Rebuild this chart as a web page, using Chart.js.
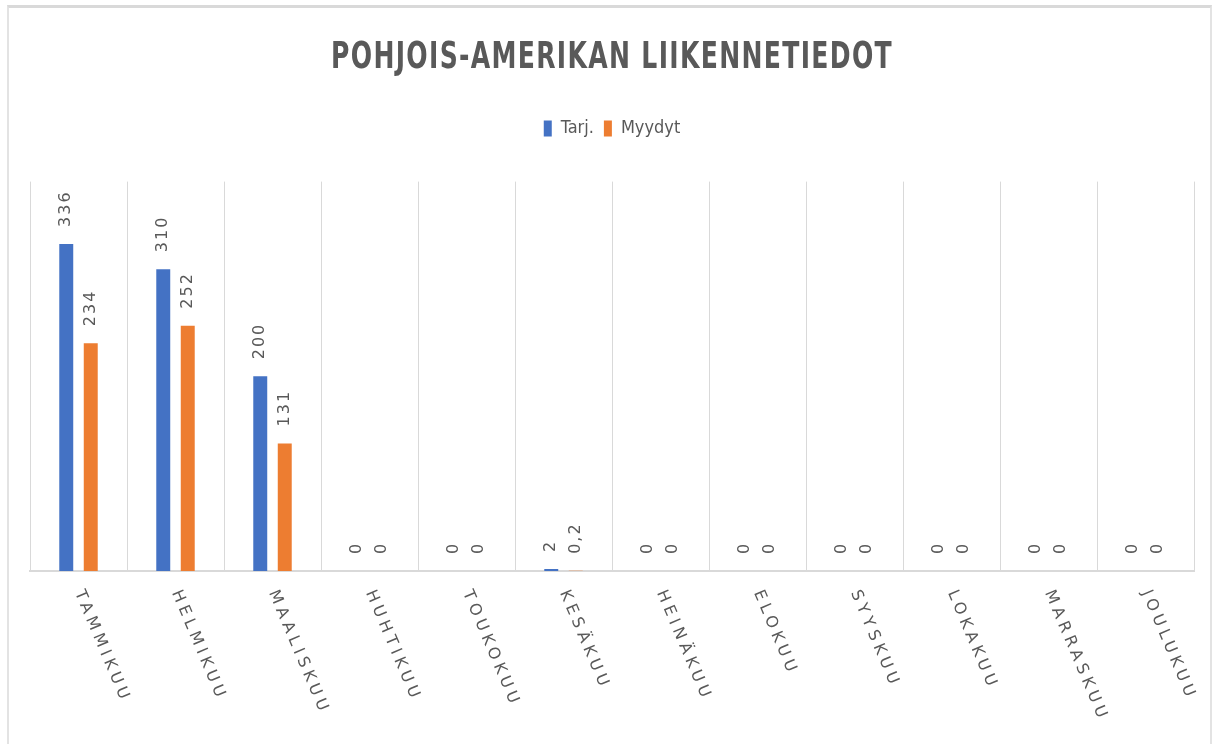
<!DOCTYPE html>
<html>
<head>
<meta charset="utf-8">
<script src="https://cdn.jsdelivr.net/npm/chart.js@4"></script>
<style>
  html, body { margin: 0; padding: 0; background: #fff; }
  #frame {
    position: absolute; left: 7px; top: 5px; width: 1205px; height: 745px;
    border-top: 3px solid #d9d9d9; border-left: 2px solid #e3e3e3; border-right: 2px solid #e3e3e3;
    box-sizing: border-box;
  }
  #wrap { position: absolute; left: 0; top: 0; width: 1216px; height: 744px; }
</style>
</head>
<body>
<div id="frame"></div>
<div id="wrap"><canvas id="myChart"></canvas></div>
<script>
const months = ['TAMMIKUU', 'HELMIKUU', 'MAALISKUU', 'HUHTIKUU', 'TOUKOKUU', 'KESÄKUU',
  'HEINÄKUU', 'ELOKUU', 'SYYSKUU', 'LOKAKUU', 'MARRASKUU', 'JOULUKUU'];
const tarj = [336, 310, 200, 0, 0, 2, 0, 0, 0, 0, 0, 0];
const myydyt = [234, 252, 131, 0, 0, 0.2, 0, 0, 0, 0, 0, 0];

const grey = '#595959';
const titleText = 'POHJOIS-AMERIKAN LIIKENNETIEDOT';

// bar value labels, rotated to read upwards
const valueLabels = {
  id: 'valueLabels',
  afterDatasetsDraw(chart) {
    const ctx = chart.ctx;
    ctx.save();
    ctx.fillStyle = grey;
    ctx.font = '16px "DejaVu Sans", sans-serif';
    ctx.letterSpacing = '2px';
    ctx.textAlign = 'left';
    ctx.textBaseline = 'middle';
    chart.data.datasets.forEach((ds, i) => {
      chart.getDatasetMeta(i).data.forEach((bar, j) => {
        let txt = String(ds.data[j]).replace('.', ',');
        ctx.save();
        ctx.translate(bar.x, bar.y - 17);
        ctx.rotate(-Math.PI / 2);
        ctx.fillText(txt, 0, 0);
        ctx.restore();
      });
    });
    ctx.restore();
  }
};

// month labels, slanted down to the right
const monthLabels = {
  id: 'monthLabels',
  afterDraw(chart) {
    const ctx = chart.ctx;
    const xs = chart.scales.x;
    ctx.save();
    ctx.fillStyle = grey;
    ctx.font = '16px "DejaVu Sans", sans-serif';
    ctx.letterSpacing = '4.5px';
    ctx.textAlign = 'left';
    ctx.textBaseline = 'middle';
    months.forEach((m, i) => {
      ctx.save();
      ctx.translate(xs.getPixelForValue(i), chart.chartArea.bottom + 20);
      ctx.rotate(67 * Math.PI / 180);
      ctx.fillText(m, 0, 0);
      ctx.restore();
    });
    ctx.restore();
  }
};

// title in a narrow, squeezed face (the built-in title only reserves the room)
const narrowTitle = {
  id: 'narrowTitle',
  afterDraw(chart) {
    const tb = chart.titleBlock;
    const ctx = chart.ctx;
    ctx.save();
    ctx.fillStyle = grey;
    ctx.font = 'bold 38px "DejaVu Sans", sans-serif';
    ctx.letterSpacing = '2px';
    ctx.textAlign = 'center';
    ctx.textBaseline = 'middle';
    ctx.translate((tb.left + tb.right) / 2, 58);
    ctx.scale(0.66, 1);
    ctx.fillText(titleText, 0, 0);
    ctx.restore();
  }
};

// some extra room under the legend
const legendGap = {
  id: 'legendGap',
  beforeInit(chart) {
    const fit = chart.legend.fit;
    chart.legend.fit = function () {
      fit.bind(chart.legend)();
      this.height += 34;
    };
  }
};

let ctx = document.getElementById('myChart').getContext('2d');
new Chart(ctx, {
  type: 'bar',
  data: {
    labels: months,
    datasets: [{
      label: 'Tarj.',
      data: tarj,
      backgroundColor: '#4472C4',
      categoryPercentage: 0.505,
      barPercentage: 0.57
    }, {
      label: 'Myydyt',
      data: myydyt,
      backgroundColor: '#ED7D31',
      categoryPercentage: 0.505,
      barPercentage: 0.57
    }]
  },
  plugins: [valueLabels, monthLabels, narrowTitle, legendGap],
  options: {
    responsive: true,
    maintainAspectRatio: false,
    animation: false,
    layout: { padding: { left: 30, right: 22, bottom: 173, top: 0 } },
    plugins: {
      title: {
        display: true,
        text: titleText,
        color: 'rgba(0,0,0,0)',
        font: { family: '"DejaVu Sans", sans-serif', size: 38, weight: 'bold' },
        padding: { top: 36, bottom: 28 }
      },
      legend: {
        labels: {
          color: grey,
          boxWidth: 8,
          boxHeight: 16,
          font: { family: '"DejaVu Sans Condensed", "DejaVu Sans", sans-serif', size: 18 }
        }
      },
      tooltip: { enabled: false }
    },
    scales: {
      x: {
        grid: { display: true, color: '#d9d9d9', drawTicks: false, offset: true },
        border: { display: true, color: '#d9d9d9', width: 2 },
        ticks: { display: false }
      },
      y: {
        display: false,
        min: 0,
        max: 400
      }
    }
  }
});
</script>
</body>
</html>
